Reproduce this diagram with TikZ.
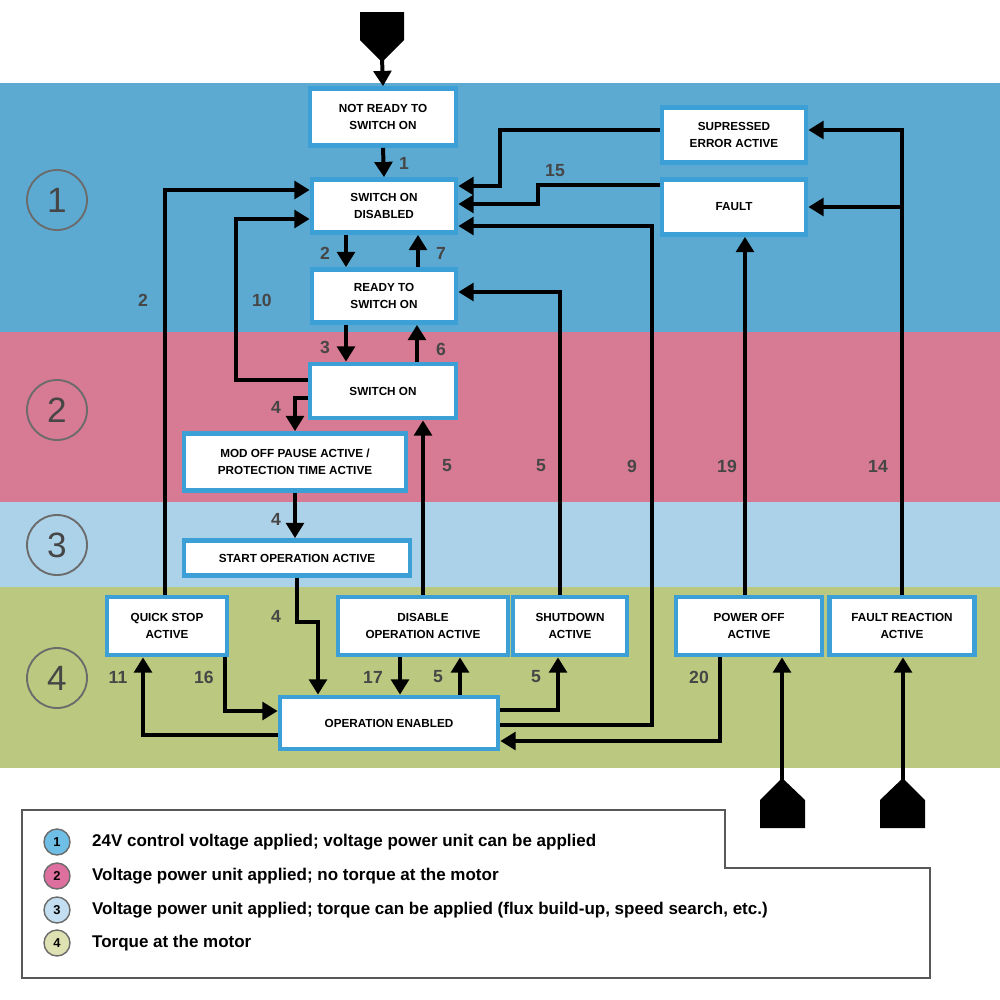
\documentclass[tikz,border=0pt]{standalone}
\usepackage{fontspec}
\setmainfont{Liberation Sans}
\usetikzlibrary{arrows.meta,positioning}
\newcommand{\pxu}{0.03cm}
\definecolor{bandblue}{RGB}{92,170,210}
\definecolor{bandpink}{RGB}{215,122,148}
\definecolor{bandlight}{RGB}{172,210,234}
\definecolor{bandgreen}{RGB}{186,201,127}
\definecolor{boxblue}{RGB}{60,160,215}
\definecolor{numgray}{RGB}{70,70,70}
\definecolor{leg1}{RGB}{110,190,230}
\definecolor{leg2}{RGB}{222,112,160}
\definecolor{leg3}{RGB}{195,222,240}
\definecolor{leg4}{RGB}{222,226,178}
\tikzset{
  state/.style 2 args={draw=boxblue, line width=4pt, fill=white, align=center,
    font=\bfseries\fontsize{10}{15}\selectfont,
    minimum width=#1*\pxu, minimum height=#2*\pxu, inner sep=0pt},
  arr/.style={line width=3.4pt, -{Triangle[length=13pt,width=15pt]}},
  wire/.style={line width=3.4pt},
  num/.style={text=numgray, font=\bfseries\fontsize{15}{15}\selectfont},
  zone/.style={circle, draw=numgray!80, line width=1.6pt, minimum size=60*\pxu,
    text=numgray, font=\fontsize{30}{30}\selectfont},
  legdot/.style={circle, draw=numgray!80, line width=1.2pt, minimum size=26*\pxu,
    inner sep=0pt, font=\bfseries\fontsize{11}{11}\selectfont},
  legtext/.style={anchor=west, font=\bfseries\fontsize{14.5}{15}\selectfont},
}
\begin{document}
\begin{tikzpicture}[x=0.03cm, y=-0.03cm]
\useasboundingbox (0,0) rectangle (1000,1000);
% zones
\fill[bandblue] (0,83) rectangle (1000,332);
\fill[bandpink] (0,332) rectangle (1000,502);
\fill[bandlight] (0,502) rectangle (1000,587);
\fill[bandgreen] (0,587) rectangle (1000,768);
\node[zone] (z1) at (57,200) {1};
\node[zone] (z2) at (57,410) {2};
\node[zone] (z3) at (57,545) {3};
\node[zone] (z4) at (57,678) {4};

% states
\node[state={146}{57}] (NRS) at (383,117) {NOT READY TO\\SWITCH ON};
\node[state={144}{53}] (SOD) at (384,206) {SWITCH ON\\DISABLED};
\node[state={144}{53}] (RTS) at (384,296) {READY TO\\SWITCH ON};
\node[state={146}{54}] (SO) at (383,391) {SWITCH ON};
\node[state={222}{57}] (MOD) at (295,462) {MOD OFF PAUSE ACTIVE /\\PROTECTION TIME ACTIVE};
\node[state={226}{35}] (SOA) at (297,558) {START OPERATION ACTIVE};
\node[state={120}{58}] (QSA) at (167,626) {QUICK STOP\\ACTIVE};
\node[state={170}{58}] (DOA) at (423,626) {DISABLE\\OPERATION ACTIVE};
\node[state={114}{58}] (SDA) at (570,626) {SHUTDOWN\\ACTIVE};
\node[state={218}{52}] (OE) at (389,723) {OPERATION ENABLED};
\node[state={146}{58}] (POA) at (749,626) {POWER OFF\\ACTIVE};
\node[state={145}{58}] (FRA) at (902,626) {FAULT REACTION\\ACTIVE};
\node[state={144}{55}] (SEA) at (734,135) {SUPRESSED\\ERROR ACTIVE};
\node[state={144}{55}] (FLT) at (734,207) {FAULT};

% entry points
\fill (360,12) -- (404,12) -- (404,40) -- (382,62) -- (360,40) -- cycle;
\coordinate (in1) at (382,58);
\fill (760,828) -- (805,828) -- (805,800) -- (782,778) -- (760,800) -- cycle;
\coordinate (in2) at (782,782);
\fill (880,828) -- (925,828) -- (925,800) -- (903,778) -- (880,800) -- cycle;
\coordinate (in3) at (903,782);

% transitions
\draw[arr] (in1) -- (NRS.north);
\draw[arr] (NRS.south) -- (SOD.north);
\draw[arr] ([xshift=-38*\pxu]SOD.south) -- ([xshift=-38*\pxu]SOD.south |- RTS.north);
\draw[arr] ([xshift=34*\pxu]RTS.north) -- ([xshift=34*\pxu]RTS.north |- SOD.south);
\draw[arr] ([xshift=-38*\pxu]RTS.south) -- ([xshift=-38*\pxu]RTS.south |- SO.north);
\draw[arr] ([xshift=34*\pxu]SO.north) -- ([xshift=34*\pxu]SO.north |- RTS.south);
\draw[arr] ([yshift=11*\pxu]SO.west) -- ++(-72,0) |- ([yshift=-13*\pxu]SOD.west);
\draw[arr] ([xshift=-2*\pxu]QSA.north) |- ([yshift=16*\pxu]SOD.west);
\draw[arr] ([yshift=-7*\pxu]SO.west) -| (MOD.north);
\draw[arr] (MOD.south) -- (MOD.south |- SOA.north);
\draw[arr] (SOA.south) -- ++(0,44) -| ([xshift=-71*\pxu]OE.north);
\draw[arr] (DOA.north) -- (DOA.north |- SO.south);
\draw[arr] ([xshift=-10*\pxu]SDA.north) |- ([yshift=4*\pxu]RTS.east);
\draw[arr] ([yshift=-2*\pxu]OE.east) -- ++(152,0) |- ([yshift=-20*\pxu]SOD.east);
\draw[arr] ([yshift=22*\pxu]FLT.west) -- ++(-122,0) |- ([yshift=2*\pxu]SOD.east);
\draw[arr] ([yshift=5*\pxu]SEA.west) -- ++(-160,0) |- ([yshift=20*\pxu]SOD.east);
\draw[arr] ([xshift=-4*\pxu]POA.north) -- ([xshift=-4*\pxu]POA.north |- FLT.south);
\draw[arr] (FRA.north) |- ([yshift=5*\pxu]SEA.east);
\draw[arr] (FRA.north |- FLT.east) -- (FLT.east);
\draw[arr] ([xshift=58*\pxu]QSA.south) |- ([yshift=12*\pxu]OE.west);
\draw[arr] ([yshift=-12*\pxu]OE.west) -| ([xshift=-24*\pxu]QSA.south);
\draw[arr] ([xshift=-23*\pxu]DOA.south) -- ([xshift=-23*\pxu]DOA.south |- OE.north);
\draw[arr] ([xshift=71*\pxu]OE.north) -- ([xshift=71*\pxu]OE.north |- DOA.south);
\draw[arr] ([yshift=13*\pxu]OE.east) -| ([xshift=-12*\pxu]SDA.south);
\draw[arr] ([xshift=-29*\pxu]POA.south) |- ([yshift=-18*\pxu]OE.east);
\draw[arr] (in2) -- (in2 |- POA.south);
\draw[arr] (in3) -- (in3 |- FRA.south);

% transition numbers
\node[num] (n1) at (404,163) {1};
\node[num] (n2a) at (325,253) {2};
\node[num] (n7) at (441,253) {7};
\node[num] (n3) at (325,347) {3};
\node[num] (n6) at (441,349) {6};
\node[num] (n10) at (262,300) {10};
\node[num] (n2b) at (143,300) {2};
\node[num] (n4a) at (276,407) {4};
\node[num] (n4b) at (276,519) {4};
\node[num] (n4c) at (276,616) {4};
\node[num] (n5a) at (447,466) {5};
\node[num] (n5b) at (541,466) {5};
\node[num] (n9) at (632,466) {9};
\node[num] (n19) at (727,466) {19};
\node[num] (n14) at (878,466) {14};
\node[num] (n15) at (555,171) {15};
\node[num] (n11) at (118,677) {11};
\node[num] (n16) at (204,677) {16};
\node[num] (n17) at (373,677) {17};
\node[num] (n5c) at (438,677) {5};
\node[num] (n5d) at (536,677) {5};
\node[num] (n20) at (699,677) {20};

% legend
\draw[numgray!90, line width=2.5pt] (22,810) -- (725,810) -- (725,868) -- (930,868)
  -- (930,978) -- (22,978) -- cycle;
\node[legdot, fill=leg1] (d1) at (57,842) {1};
\node[legdot, fill=leg2] (d2) at (57,876) {2};
\node[legdot, fill=leg3] (d3) at (57,910) {3};
\node[legdot, fill=leg4] (d4) at (57,943) {4};
\node[legtext] (t1) at (88,842) {24V control voltage applied; voltage power unit can be applied};
\node[legtext] (t2) at (88,876) {Voltage power unit applied; no torque at the motor};
\node[legtext] (t3) at (88,910) {Voltage power unit applied; torque can be applied (flux build-up, speed search, etc.)};
\node[legtext] (t4) at (88,943) {Torque at the motor};
\end{tikzpicture}
\end{document}
